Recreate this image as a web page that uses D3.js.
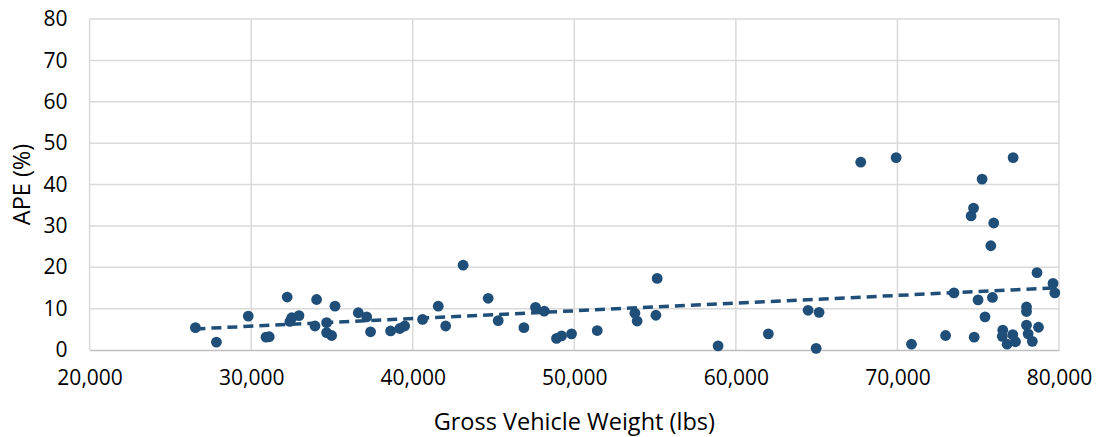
<!DOCTYPE html>
<html>
<head>
<meta charset="utf-8">
<script src="https://cdn.jsdelivr.net/npm/d3@7"></script>
<style>
  html, body { margin: 0; padding: 0; background: #fff; }
  svg { display: block; font-family: "Open Sans", "Noto Sans", sans-serif; }
</style>
</head>
<body>
<svg id="chart" width="1099" height="437"></svg>
<script>
// Gross vehicle weight (lbs) for each observation
const weights = [
  26550, 27850, 29820, 30920, 31120, 32230, 32400, 32510, 32960, 33950,
  34050, 34670, 34670, 34980, 35190, 36630, 37150, 37390, 38630, 39200,
  39500, 40610, 41580, 42040, 43120, 44670, 45290, 46880, 47600, 48140,
  48900, 49210, 49830, 51420, 53750, 53890, 55050, 55130, 58900, 62010,
  64470, 65150, 64970, 67730, 69920, 70870, 72980, 73500, 74560, 74710,
  74750, 74990, 75240, 75420, 75880, 75780, 75960, 76520, 76490, 76790,
  77140, 77310, 77160, 77990, 77990, 77990, 78090, 78350, 78730, 78640,
  79630, 79740
];
// Absolute percentage error (%) for each observation
const ape = [
  5.4, 1.9, 8.2, 3.1, 3.2, 12.8, 6.9, 7.8, 8.3, 5.8,
  12.2, 6.6, 4.2, 3.5, 10.6, 9.0, 8.0, 4.4, 4.6, 5.2,
  5.8, 7.4, 10.6, 5.8, 20.5, 12.5, 7.1, 5.4, 10.3, 9.4,
  2.8, 3.4, 3.9, 4.7, 8.9, 7.0, 8.4, 17.3, 1.0, 3.9,
  9.6, 9.1, 0.4, 45.4, 46.5, 1.4, 3.5, 13.8, 32.4, 34.3,
  3.1, 12.1, 41.3, 8.0, 12.7, 25.2, 30.7, 4.8, 3.3, 1.4,
  3.7, 2.0, 46.5, 10.4, 9.3, 6.0, 3.9, 2.1, 5.5, 18.7,
  16.1, 13.8
];
const xTicks = [20000, 30000, 40000, 50000, 60000, 70000, 80000];
const yTicks = [0, 10, 20, 30, 40, 50, 60, 70, 80];

const points = weights.map((w, i) => ({ x: w, y: ape[i] }));

const svg = d3.select("#chart");
const plotLeft = 89.6, plotRight = 1059, plotTop = 19, plotBottom = 350;

const x = d3.scaleLinear().domain([20000, 80000]).range([plotLeft, plotRight]);
const y = d3.scaleLinear().domain([0, 80]).range([plotBottom, plotTop]);

const fmt = d3.format(",");
const ink = "#1f4e79";

// gridlines
svg.append("g").selectAll("line").data(yTicks.filter(d => d > 0)).join("line")
  .attr("x1", plotLeft).attr("x2", plotRight)
  .attr("y1", d => y(d)).attr("y2", d => y(d))
  .attr("stroke", "#d9d9d9").attr("stroke-width", 1.5);
svg.append("g").selectAll("line").data(xTicks).join("line")
  .attr("x1", d => x(d)).attr("x2", d => x(d))
  .attr("y1", plotTop).attr("y2", plotBottom)
  .attr("stroke", "#d9d9d9").attr("stroke-width", 1.5);

// x axis (baseline + labels)
const xAxis = d3.axisBottom(x).tickValues(xTicks).tickFormat(fmt).tickSize(0).tickPadding(20);
const gx = svg.append("g").attr("transform", `translate(0,${plotBottom})`).call(xAxis);
gx.select(".domain").attr("stroke", "#bfbfbf").attr("stroke-width", 1.5);
gx.selectAll("text").attr("font-size", 21).attr("fill", "#000").attr("font-family", "Open Sans");

// y axis labels
const yAxis = d3.axisLeft(y).tickValues(yTicks).tickSize(0).tickPadding(22);
const gy = svg.append("g").attr("transform", `translate(${plotLeft},0)`).call(yAxis);
gy.select(".domain").remove();
gy.selectAll("text").attr("font-size", 21).attr("fill", "#000").attr("font-family", "Open Sans");

// scatter points
svg.append("g").selectAll("circle").data(points).join("circle")
  .attr("cx", d => x(d.x)).attr("cy", d => y(d.y)).attr("r", 5.4)
  .attr("fill", ink);

// least-squares linear trendline across the observed weight range
const mx = d3.mean(points, d => d.x), my = d3.mean(points, d => d.y);
const sxy = d3.sum(points, d => (d.x - mx) * (d.y - my));
const sxx = d3.sum(points, d => (d.x - mx) ** 2);
const slope = sxy / sxx, intercept = my - slope * mx;
const [xmin, xmax] = d3.extent(weights);
svg.append("line")
  .attr("x1", x(xmin)).attr("y1", y(intercept + slope * xmin))
  .attr("x2", x(xmax)).attr("y2", y(intercept + slope * xmax))
  .attr("stroke", ink).attr("stroke-width", 3.5)
  .attr("stroke-dasharray", "10,6");

// axis titles
svg.append("text").attr("x", (plotLeft + plotRight) / 2).attr("y", 430)
  .attr("text-anchor", "middle").attr("font-size", 23.5).attr("fill", "#000")
  .text("Gross Vehicle Weight (lbs)");
svg.append("text")
  .attr("transform", `translate(30,${(plotTop + plotBottom) / 2}) rotate(-90)`)
  .attr("text-anchor", "middle").attr("font-size", 23.5).attr("fill", "#000")
  .text("APE (%)");
</script>
</body>
</html>
